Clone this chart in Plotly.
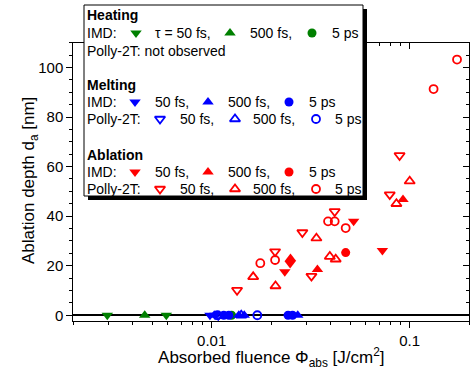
import math
import plotly.graph_objects as go

# ---------------- data (fluence J/cm^2, depth nm) ----------------
heat_imd_50fs_x = [0.00297, 0.0059]
heat_imd_50fs_y = [0, 0]
heat_imd_500fs_x = [0.00459]
heat_imd_500fs_y = [0]
heat_imd_5ps_x = [0.0126]
heat_imd_5ps_y = [0]

melt_imd_50fs_x = [0.0098, 0.0104]
melt_imd_50fs_y = [0, 0]
melt_imd_500fs_x = [0.0103, 0.0137, 0.0146, 0.0272]
melt_imd_500fs_y = [0, 0, 0, 0]
melt_imd_5ps_x = [0.0115, 0.0122, 0.0243, 0.0256]
melt_imd_5ps_y = [0, 0, 0, 0]
melt_p2t_50fs_x = [0.0108]
melt_p2t_50fs_y = [0]
melt_p2t_500fs_x = [0.0141]
melt_p2t_500fs_y = [0]
melt_p2t_5ps_x = [0.0107, 0.0170]
melt_p2t_5ps_y = [0, 0]

abl_imd_50fs_x = [0.0234, 0.0249, 0.0521, 0.0728]
abl_imd_50fs_y = [17.6, 20.9, 37.9, 26.1]
abl_imd_500fs_x = [0.0250, 0.0342, 0.0925]
abl_imd_500fs_y = [22.9, 18.5, 46.7]
abl_imd_5ps_x = [0.0475]
abl_imd_5ps_y = [25.3]
abl_p2t_50fs_x = [0.01343, 0.0209, 0.0287, 0.0319, 0.0418, 0.0793, 0.0889]
abl_p2t_50fs_y = [10.1, 25.7, 33.4, 15.8, 41.9, 48.7, 64.5]
abl_p2t_500fs_x = [0.0162, 0.0210, 0.0338, 0.0395, 0.0423, 0.0857, 0.100]
abl_p2t_500fs_y = [15.5, 11.8, 31.1, 23.7, 22.6, 45.0, 54.1]
abl_p2t_5ps_x = [0.0176, 0.0209, 0.0387, 0.0418, 0.0475, 0.132, 0.1734]
abl_p2t_5ps_y = [21.0, 22.3, 37.9, 37.9, 35.2, 91.3, 103.2]

x_major_ticks = [0.01, 0.1]
x_major_labels = ["0.01", "0.1"]
x_minor_ticks = [0.002, 0.003, 0.004, 0.005, 0.006, 0.007, 0.008, 0.009,
                 0.02, 0.03, 0.04, 0.05, 0.06, 0.07, 0.08, 0.09, 0.2]

GREEN = "#008000"
BLUE = "#0000ff"
RED = "#ff0000"
FONT = "Liberation Sans, Arial, sans-serif"

W, H = 470, 370


def sym_style(kind, color):
    if kind == "tdf":
        return dict(symbol="triangle-down", size=10, color=color, line=dict(width=0))
    if kind == "tuf":
        return dict(symbol="triangle-up", size=10, color=color, line=dict(width=0))
    if kind == "cf":
        return dict(symbol="circle", size=9, color=color, line=dict(width=0))
    if kind == "tdo":
        return dict(symbol="triangle-down-open", size=9, color=color, line=dict(width=1.8, color=color))
    if kind == "tuo":
        return dict(symbol="triangle-up-open", size=9, color=color, line=dict(width=1.8, color=color))
    if kind == "co":
        return dict(symbol="circle-open", size=8, color=color, line=dict(width=1.8, color=color))


fig = go.Figure()

series = [
    (heat_imd_50fs_x, heat_imd_50fs_y, "tdf", GREEN),
    (heat_imd_500fs_x, heat_imd_500fs_y, "tuf", GREEN),
    (heat_imd_5ps_x, heat_imd_5ps_y, "cf", GREEN),
    (melt_imd_50fs_x, melt_imd_50fs_y, "tdf", BLUE),
    (melt_imd_500fs_x, melt_imd_500fs_y, "tuf", BLUE),
    (melt_imd_5ps_x, melt_imd_5ps_y, "cf", BLUE),
    (melt_p2t_50fs_x, melt_p2t_50fs_y, "tdo", BLUE),
    (melt_p2t_500fs_x, melt_p2t_500fs_y, "tuo", BLUE),
    (melt_p2t_5ps_x, melt_p2t_5ps_y, "co", BLUE),
    (abl_p2t_50fs_x, abl_p2t_50fs_y, "tdo", RED),
    (abl_p2t_500fs_x, abl_p2t_500fs_y, "tuo", RED),
    (abl_p2t_5ps_x, abl_p2t_5ps_y, "co", RED),
    (abl_imd_50fs_x, abl_imd_50fs_y, "tdf", RED),
    (abl_imd_500fs_x, abl_imd_500fs_y, "tuf", RED),
    (abl_imd_5ps_x, abl_imd_5ps_y, "cf", RED),
]
for xs, ys, kind, col in series:
    fig.add_trace(go.Scatter(x=xs, y=ys, mode="markers", marker=sym_style(kind, col),
                             showlegend=False, hoverinfo="skip", cliponaxis=False))

# dummy trace for mirrored axes
fig.add_trace(go.Scatter(x=[None], y=[None], xaxis="x2", yaxis="y2", showlegend=False,
                         hoverinfo="skip"))

# ---------------- legend box (pixel layout subplot x3/y3) ----------------
box = (84, 5, 363, 196)
sh = 4
fig.add_trace(go.Scatter(
    x=[box[0] + sh, box[2] + sh, box[2] + sh, box[0] + sh, box[0] + sh],
    y=[box[1] + sh, box[1] + sh, box[3] + sh, box[3] + sh, box[1] + sh],
    xaxis="x3", yaxis="y3", mode="lines", fill="toself", fillcolor="black",
    line=dict(width=0, color="black"), showlegend=False, hoverinfo="skip"))
fig.add_trace(go.Scatter(
    x=[box[0], box[2], box[2], box[0], box[0]],
    y=[box[1], box[1], box[3], box[3], box[1]],
    xaxis="x3", yaxis="y3", mode="lines", fill="toself", fillcolor="white",
    line=dict(width=1, color="black"), showlegend=False, hoverinfo="skip"))

leg_markers = [
    # (x, y, kind, color)
    (136, 33, "tdf", GREEN), (230, 33, "tuf", GREEN), (312, 33, "cf", GREEN),
    (135, 102, "tdf", BLUE), (208, 102, "tuf", BLUE), (289, 102, "cf", BLUE),
    (160, 119, "tdo", BLUE), (235, 119, "tuo", BLUE), (316, 119, "co", BLUE),
    (135, 172, "tdf", RED), (208, 172, "tuf", RED), (289, 172, "cf", RED),
    (160, 189, "tdo", RED), (235, 189, "tuo", RED), (316, 189, "co", RED),
]
for lx, ly, kind, col in leg_markers:
    fig.add_trace(go.Scatter(x=[lx], y=[ly], xaxis="x3", yaxis="y3", mode="markers",
                             marker=sym_style(kind, col), showlegend=False, hoverinfo="skip"))

leg_texts = [
    (87, 15, "<b>Heating</b>"),
    (87, 33, "IMD:"), (155, 33, "τ = 50 fs,"), (250, 33, "500 fs,"), (332, 33, "5 ps"),
    (87, 51, "Polly-2T: not observed"),
    (87, 85, "<b>Melting</b>"),
    (87, 102, "IMD:"), (155, 102, "50 fs,"), (228, 102, "500 fs,"), (309, 102, "5 ps"),
    (87, 119, "Polly-2T:"), (180, 119, "50 fs,"), (253, 119, "500 fs,"), (335, 119, "5 ps"),
    (87, 155, "<b>Ablation</b>"),
    (87, 172, "IMD:"), (155, 172, "50 fs,"), (228, 172, "500 fs,"), (309, 172, "5 ps"),
    (87, 189, "Polly-2T:"), (180, 189, "50 fs,"), (253, 189, "500 fs,"), (335, 189, "5 ps"),
]
annotations = []
for tx, ty, txt in leg_texts:
    annotations.append(dict(x=tx, y=ty, xref="x3", yref="y3", text=txt, showarrow=False,
                            xanchor="left", yanchor="middle", xshift=-2,
                            font=dict(family=FONT, size=14, color="black")))

# y-axis title placed as rotated text
annotations.append(dict(x=30, y=181, xref="x3", yref="y3",
                        text="Ablation depth d<sub>a</sub> [nm]", showarrow=False,
                        textangle=-90, xanchor="center", yanchor="middle",
                        font=dict(family=FONT, size=17, color="black")))

xr = [math.log10(0.002), math.log10(0.2)]
yr = [-2.2, 110]
xdom = [73.3 / W, 469.3 / W]
ydom = [1 - 320.7 / H, 1 - 42.7 / H]

common_x = dict(type="log", range=xr, showgrid=False, zeroline=False, showline=True,
                linecolor="black", linewidth=1, tickmode="array", tickvals=x_major_ticks,
                tickcolor="black", tickwidth=1, ticklen=6)
common_y = dict(range=yr, showgrid=False, showline=True, linecolor="black", linewidth=1,
                tickmode="linear", tick0=0, dtick=20, tickcolor="black", tickwidth=1, ticklen=6)

fig.update_layout(
    width=W, height=H,
    margin=dict(l=0, r=0, t=0, b=0),
    paper_bgcolor="white", plot_bgcolor="rgba(0,0,0,0)",
    font=dict(family=FONT, size=15, color="black"),
    xaxis=dict(**common_x, domain=xdom, anchor="y", ticks="outside",
               ticktext=x_major_labels,
               minor=dict(tickmode="array", tickvals=x_minor_ticks, ticks="outside",
                          ticklen=3, tickcolor="black", tickwidth=1, showgrid=False),
               tickfont=dict(family=FONT, size=15),
               title=dict(text="Absorbed fluence Φ<sub>abs</sub> [J/cm<sup>2</sup>]",
                          font=dict(family=FONT, size=17), standoff=4),
               automargin=False),
    yaxis=dict(**common_y, domain=ydom, anchor="x", ticks="outside",
               zeroline=True, zerolinecolor="black", zerolinewidth=2,
               minor=dict(dtick=5, ticks="outside", ticklen=3, tickcolor="black",
                          tickwidth=1, showgrid=False),
               tickfont=dict(family=FONT, size=15),
               automargin=False),
    xaxis2=dict(**common_x, overlaying="x", side="top", anchor="y", ticks="inside",
                showticklabels=False,
                minor=dict(tickmode="array", tickvals=x_minor_ticks, ticks="inside",
                           ticklen=3, tickcolor="black", tickwidth=1, showgrid=False)),
    yaxis2=dict(**common_y, overlaying="y", side="right", anchor="x", ticks="inside",
                zeroline=False, showticklabels=False,
                minor=dict(dtick=5, ticks="inside", ticklen=3, tickcolor="black",
                           tickwidth=1, showgrid=False)),
    xaxis3=dict(domain=[0, 1], range=[0, W], anchor="y3", visible=False, fixedrange=True),
    yaxis3=dict(domain=[0, 1], range=[H, 0], anchor="x3", visible=False, fixedrange=True),
    annotations=annotations,
    showlegend=False,
)

fig.write_html("out.html")
